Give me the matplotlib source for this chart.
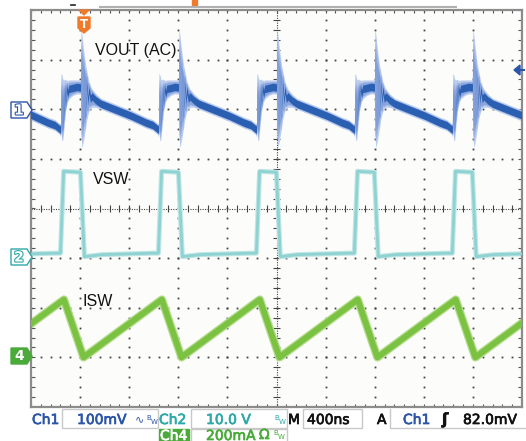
import numpy as np
import matplotlib.pyplot as plt
from matplotlib.patches import Polygon, Rectangle
from matplotlib import patheffects as pe

W, H = 526, 441

# ---- data ----
# time axis: 400 ns/div, 10 div; switching edges (rising), ns from left edge
rise_ns = [248, 1046, 1844, 2642, 3440]
period_ns = 798

# Ch1 VOUT (AC), 100 mV/div, one period relative to the rising edge (divisions)
vout_off = [-49, -10, -3, 0, 4, 8, 12, 16, 20, 24, 28, 32, 38, 45, 55, 65,
            98, 130, 155, 160,
            163, 167, 171, 175, 179, 183, 187, 193, 200, 206, 212, 220, 228, 240, 253, 285,
            326, 448, 571, 693, 749]
vout_mid = [-0.33, -0.41, -0.42, 0.35, -0.45, 0.30, -0.50, 0.25, -0.35, 0.35, -0.10,
            0.40, 0.10, 0.42, 0.30, 0.40,
            0.42, 0.44, 0.43, 0.43,
            1.20, -0.50, 1.10, -0.55, 0.95, -0.40, 0.80, -0.20, 0.65, 0.05, 0.50, 0.15,
            0.38, 0.20, 0.25, 0.17,
            0.10, -0.02, -0.14, -0.28, -0.33]
vout_hi = [-0.22, -0.30, -0.28, 0.71, 0.70, 0.68, 0.64, 0.60, 0.59, 0.58, 0.59,
           0.60, 0.58, 0.58, 0.57, 0.58,
           0.58, 0.58, 0.58, 0.60,
           1.57, 1.55, 1.50, 1.40, 1.30, 1.22, 1.15, 1.02, 0.90, 0.82, 0.75, 0.65,
           0.55, 0.47, 0.40, 0.30,
           0.21, 0.09, -0.03, -0.17, -0.22]
vout_lo = [-0.44, -0.52, -0.56, -0.40, -0.55, -0.65, -0.64, -0.62, -0.52, -0.40, -0.30,
           -0.20, -0.05, 0.05, 0.14, 0.20,
           0.27, 0.30, 0.30, 0.28,
           -0.50, -0.65, -0.78, -0.75, -0.70, -0.65, -0.60, -0.50, -0.40, -0.30, -0.20,
           -0.12, -0.05, 0.00, 0.03, 0.03,
           -0.01, -0.13, -0.25, -0.39, -0.44]

# Ch2 VSW, 10 V/div (volts)
vsw_off = [-49, -8, 18, 155, 187, 330, 749]
vsw_v = [1.0, 1.0, 17.5, 17.3, 0.3, 0.7, 1.0]

# Ch4 ISW, 200 mA/div (mA)
isw_off = [-49, 20, 180, 749]
isw_ma = [208, 233, 0, 208]

# channel ground positions (divisions from screen centre)
ch1_pos, ch2_pos, ch4_pos = 2.0, -1.0, -3.0


def tile(off, vals):
    starts = [rise_ns[0] - period_ns] + rise_ns
    t = np.concatenate([s + np.asarray(off, float) for s in starts])
    v = np.tile(np.asarray(vals, float), len(starts))
    return t, v


def fpt(x, y):
    return x / W, 1 - y / H


fig = plt.figure(figsize=(W / 100, H / 100), dpi=100)
fig.patch.set_facecolor("white")
ax = fig.add_axes([31 / W, 34 / H, 491 / W, 397 / H])
ax.set_xlim(0, 4000)
ax.set_ylim(-4, 4)
ax.set_facecolor("#fcfcfa")
ax.set_xticks([])
ax.set_yticks([])
for s in ax.spines.values():
    s.set_color("#8c8c8c")
    s.set_linewidth(1.6)

# graticule
xs_minor = np.arange(0, 4001, 80)
ys_minor = np.arange(-4, 4.001, 0.2)
for gx in range(400, 4000, 400):
    if gx == 2000:
        continue
    ax.plot(np.full_like(ys_minor, gx), ys_minor, ls="none", marker="s",
            ms=1.3, mew=0, color="#444", zorder=1)
for gy in range(-3, 4):
    if gy == 0:
        continue
    ax.plot(xs_minor, np.full_like(xs_minor, gy, dtype=float), ls="none",
            marker="s", ms=1.3, mew=0, color="#444", zorder=1)
ax.axhline(0, color="#444", lw=0.8, ls=(0, (1, 1.2)), zorder=1)
ax.axvline(2000, color="#444", lw=0.8, ls=(0, (1, 1.2)), zorder=1)
ax.vlines(xs_minor, -0.07, 0.07, color="#444", lw=0.8, zorder=1)
ax.hlines(ys_minor, 1972, 2028, color="#444", lw=0.8, zorder=1)
ax.vlines(xs_minor, -4, -3.93, color="#555", lw=0.8, zorder=1)
ax.vlines(xs_minor, 3.93, 4, color="#555", lw=0.8, zorder=1)
ax.hlines(ys_minor, 0, 30, color="#555", lw=0.8, zorder=1)
ax.hlines(ys_minor, 3970, 4000, color="#555", lw=0.8, zorder=1)

# Ch1 VOUT
t1, mid = tile(vout_off, vout_mid)
_, hi = tile(vout_off, vout_hi)
_, lo = tile(vout_off, vout_lo)
ax.fill_between(t1, hi + ch1_pos, lo + ch1_pos, color="#bccdee", lw=0, zorder=2)
ax.fill_between(t1, mid + 0.75 * (hi - mid) + ch1_pos, mid + 0.75 * (lo - mid) + ch1_pos,
                color="#8aa6de", lw=0, zorder=2)
ax.fill_between(t1, mid + 0.075 + ch1_pos, mid - 0.075 + ch1_pos,
                color="#2b5fb2", lw=0, zorder=3)

# Ch2 VSW
t2, v2 = tile(vsw_off, vsw_v)
ax.plot(t2, v2 / 10 + ch2_pos, color="#bfe6e5", lw=3.6, zorder=2)
ax.plot(t2, v2 / 10 + ch2_pos, color="#8ed2d1", lw=2.0, zorder=3)

# Ch4 ISW
t4, i4 = tile(isw_off, isw_ma)
ax.plot(t4, i4 / 200 + ch4_pos, color="#b3dd8c", lw=6.0, zorder=2)
ax.plot(t4, i4 / 200 + ch4_pos, color="#7bc142", lw=4.2, zorder=3)

# trace labels
lab = dict(fontsize=11.5, family="Liberation Sans", color="#111")
fig.text(*fpt(95, 55), "VOUT (AC)", **lab)
fig.text(*fpt(93, 184), "VSW", **lab)
fig.text(*fpt(82, 306), "ISW", **lab)

# channel ground markers
blue, teal, green, orange = "#2c55a8", "#2fa9a8", "#4aab3a", "#f07a2c"


def badge(yc, edge, face, label, txt):
    pts = [fpt(11, yc - 8), fpt(27, yc - 8), fpt(32, yc), fpt(27, yc + 8), fpt(11, yc + 8)]
    fig.patches.append(Polygon(pts, closed=True, transform=fig.transFigure,
                               facecolor=face, edgecolor=edge, lw=1.0))
    t = fig.text(*fpt(19, yc + 0.5), label, ha="center", va="center", fontsize=10,
                 color=txt, fontweight="bold")
    if face == "white":
        t.set_path_effects([pe.withStroke(linewidth=1.6, foreground=edge)])
        t.set_color("white")


badge(110, blue, "white", "1", blue)
badge(257, teal, "white", "2", teal)
badge(356, green, green, "4", "white")

# trigger position marker
fig.patches.append(Polygon([fpt(79, 10), fpt(89, 10), fpt(84, 15)], closed=True,
                           transform=fig.transFigure, color=orange))
fig.patches.append(Polygon([fpt(78, 17), fpt(90, 17), fpt(90, 28), fpt(84, 33), fpt(78, 28)],
                           closed=True, transform=fig.transFigure, color=orange))
fig.text(*fpt(84, 24), "T", ha="center", va="center", fontsize=8.5, color="white",
         fontweight="bold")
fig.lines.append(plt.Line2D([100 / W, 456 / W], [1 - 7 / H, 1 - 7 / H],
                            transform=fig.transFigure, color="#b0b0b0", lw=1.5))
fig.lines.append(plt.Line2D([71 / W, 75 / W], [1 - 5 / H, 1 - 5 / H],
                            transform=fig.transFigure, color="#222", lw=1.2))
fig.patches.append(Rectangle(fpt(192, 5), 5 / W, 5 / H, transform=fig.transFigure,
                             color=orange))
# trigger level arrow
fig.patches.append(Polygon([fpt(514, 70), fpt(520, 65), fpt(520, 75)], closed=True,
                           transform=fig.transFigure, color=blue))
fig.lines.append(plt.Line2D([519 / W, 524 / W], [1 - 70 / H, 1 - 70 / H],
                            transform=fig.transFigure, color=blue, lw=1.5))

# status bar
for x0, x1, y0, y1 in [(62, 158, 409, 428), (191, 287, 409, 428), (303, 362, 409, 428),
                       (191, 287, 429, 445)]:
    fig.patches.append(Rectangle(fpt(x0, y1), (x1 - x0) / W, (y1 - y0) / H,
                                 transform=fig.transFigure, facecolor="white",
                                 edgecolor="#c8c8c8", lw=1.0))
fig.lines.append(plt.Line2D([390 / W, 390 / W, 526 / W], [1 - 409 / H, 1 - 428 / H, 1 - 428 / H],
                            transform=fig.transFigure, color="#c8c8c8", lw=1.0))
fig.patches.append(Rectangle(fpt(159, 442), 30 / W, 13 / H, transform=fig.transFigure,
                             color=green))


def stext(x, y, s, color, size=10, **kw):
    t = fig.text(*fpt(x, y), s, color=color, fontsize=size, family="DejaVu Sans",
                 va="baseline", **kw)
    if size >= 9:
        t.set_path_effects([pe.withStroke(linewidth=0.5, foreground=color)])
    return t


stext(32, 424, "Ch1", blue)
stext(77, 424, "100mV", blue)
stext(135, 422, "\u223f", blue, size=8)
stext(146, 420, "B", blue, size=5)
stext(151, 424, "W", blue, size=5)
stext(159, 424, "Ch2", teal)
stext(206, 424, "10.0 V", teal)
stext(274, 420, "B", teal, size=5)
stext(279, 424, "W", teal, size=5)
stext(288, 424, "M", "#111")
stext(307, 424, "400ns", "#111")
stext(377, 424, "A", "#111")
stext(403, 424, "Ch1", blue)
stext(442, 424, "\u0283", "#111", size=11, fontweight="bold")
stext(463, 424, "82.0mV", "#111")
stext(160, 440, "Ch4", "white")
stext(206, 440, "200mA", green)
stext(259, 439, "\u03a9", green)
stext(273, 435, "B", green, size=5)
stext(278, 439, "W", green, size=5)

fig.savefig("out.png", dpi=100, facecolor="white")
